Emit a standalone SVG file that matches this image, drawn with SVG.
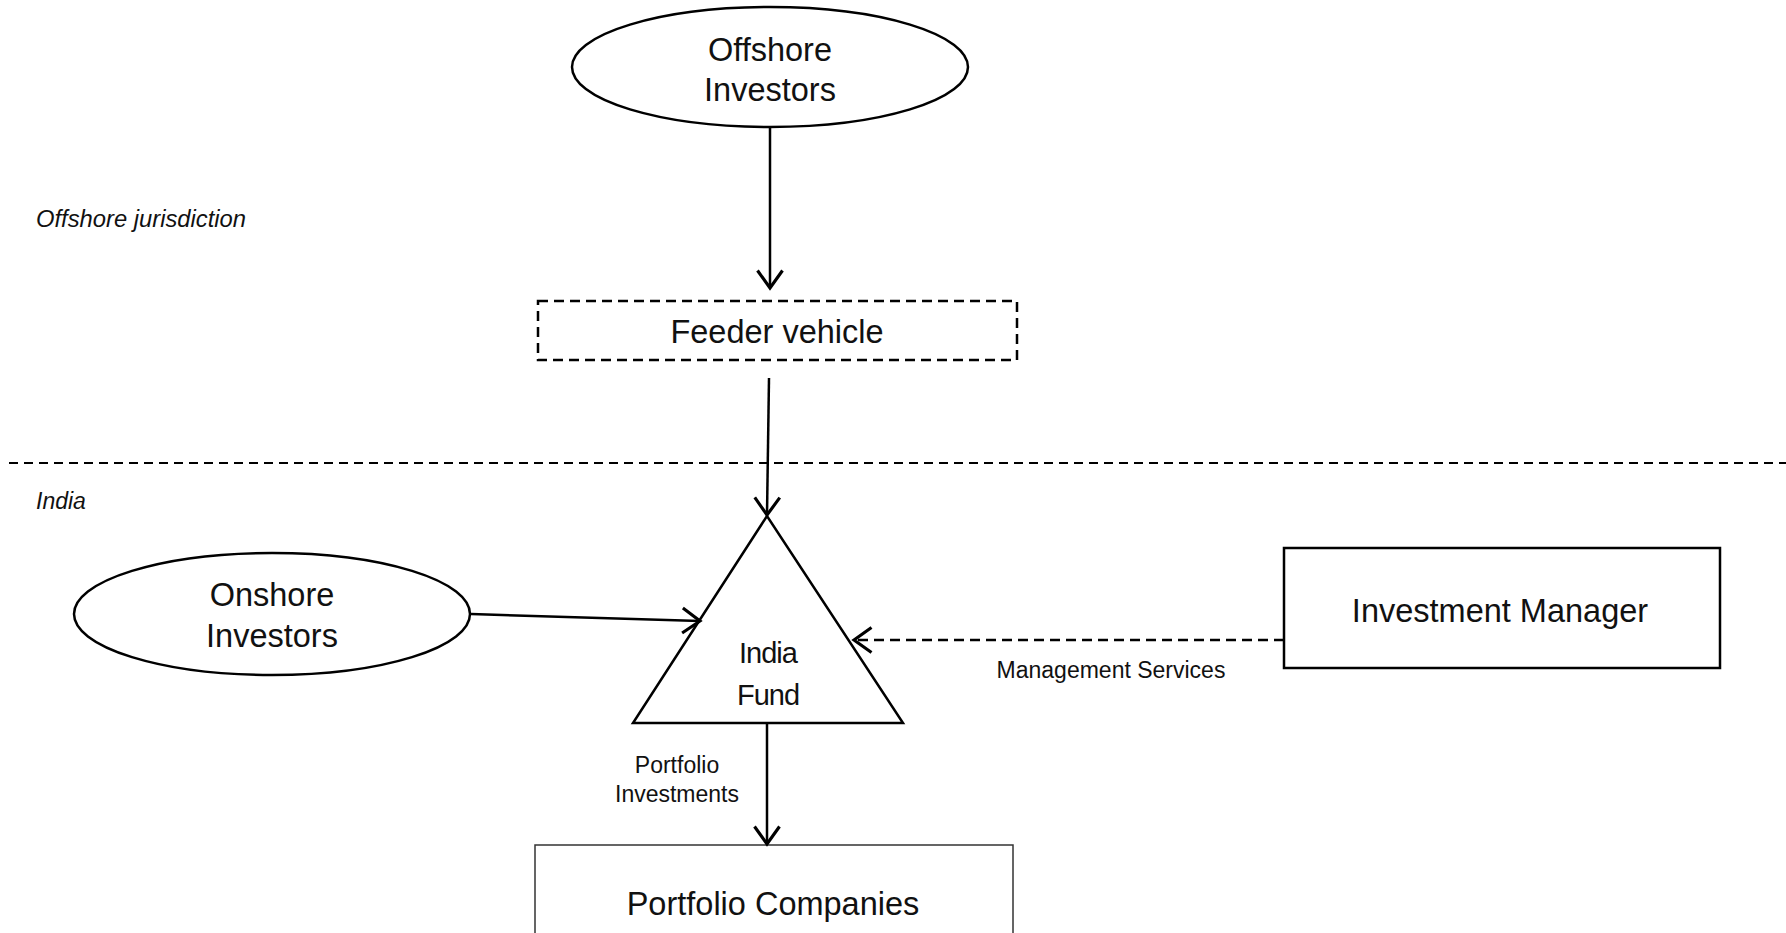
<svg xmlns="http://www.w3.org/2000/svg" width="1786" height="933" viewBox="0 0 1786 933">
<style>
.t{font-family:"Liberation Sans",Arial,sans-serif;fill:#111;text-anchor:middle}
.big{font-size:32.5px}
.sm{font-size:23px}
.it{font-family:"Liberation Sans",Arial,sans-serif;font-style:italic;font-size:23px;fill:#111}
.s{fill:#fff;stroke:#000;stroke-width:2.5}
.c{fill:none;stroke:#000;stroke-width:2.5}
</style>
<defs>
<marker id="ah" markerUnits="userSpaceOnUse" markerWidth="30" markerHeight="30" viewBox="-16 -12 18 24" refX="0" refY="0" orient="auto">
<path d="M-14,-10 L0,0 L-14,10" fill="none" stroke="#000" stroke-width="2.5"/>
</marker>
</defs>
<line x1="9" y1="463" x2="1786" y2="463" stroke="#000" stroke-width="2" stroke-dasharray="9,6"/>
<text class="it" x="36" y="227" textLength="210" lengthAdjust="spacingAndGlyphs">Offshore jurisdiction</text>
<text class="it" x="36" y="509">India</text>
<g id="offshore">
<ellipse class="s" cx="770" cy="67" rx="198" ry="60"/>
<text class="t big" x="770" y="61">Offshore</text>
<text class="t big" x="770" y="101">Investors</text>
</g>
<g id="feeder">
<rect class="s" x="538" y="301" width="479" height="59" stroke-dasharray="10,6"/>
<text class="t big" x="777" y="343">Feeder vehicle</text>
</g>
<g id="indiafund">
<polygon class="s" points="767,516 633,723 903,723"/>
<text class="t" x="768" y="663" font-size="29" letter-spacing="-1">India</text>
<text class="t" x="768" y="705" font-size="29" letter-spacing="-1">Fund</text>
</g>
<g id="onshore">
<ellipse class="s" cx="272" cy="614" rx="198" ry="61"/>
<text class="t big" x="272" y="606">Onshore</text>
<text class="t big" x="272" y="647">Investors</text>
</g>
<g id="manager">
<rect class="s" x="1284" y="548" width="436" height="120" stroke-width="2"/>
<text class="t big" x="1500" y="622">Investment Manager</text>
</g>
<g id="portfolio">
<rect x="535" y="845" width="478" height="100" fill="#fff" stroke="#333" stroke-width="1.5"/>
<text class="t big" x="773" y="915">Portfolio Companies</text>
</g>
<g id="connectors">
<line class="c" x1="770" y1="128" x2="770" y2="288" marker-end="url(#ah)"/>
<line class="c" x1="769" y1="378" x2="767" y2="515" marker-end="url(#ah)"/>
<line class="c" x1="471" y1="614" x2="700" y2="621" marker-end="url(#ah)"/>
<line class="c" x1="1284" y1="640" x2="854" y2="640" stroke-dasharray="10,6" marker-end="url(#ah)"/>
<line class="c" x1="767" y1="724" x2="767" y2="844" marker-end="url(#ah)"/>
<text class="t sm" x="1111" y="678">Management Services</text>
<text class="t sm" x="677" y="773">Portfolio</text>
<text class="t sm" x="677" y="802">Investments</text>
</g>
</svg>
